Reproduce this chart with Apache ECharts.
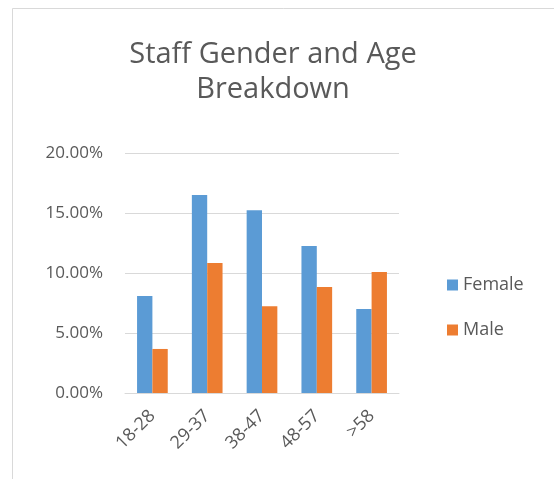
<!DOCTYPE html>
<html>
<head>
<meta charset="utf-8">
<script src="https://cdn.jsdelivr.net/npm/echarts@6/dist/echarts.min.js"></script>
<style>html,body{margin:0;padding:0;background:#fff}#c{width:554px;height:479px}</style>
</head>
<body>
<div id="c"></div>
<script>
const categories = ['18-28', '29-37', '38-47', '48-57', '>58'];
const femaleValues = [8.08, 16.5, 15.22, 12.25, 7.0];
const maleValues = [3.67, 10.83, 7.22, 8.83, 10.08];
const seriesNames = ['Female', 'Male'];
const yTicks = { min: 0, max: 20, interval: 5 };

const chart = echarts.init(document.getElementById('c'), null, { renderer: 'canvas' });
const font = '"Open Sans", "Liberation Sans", sans-serif';
chart.setOption({
  animation: false,
  backgroundColor: '#ffffff',
  title: {
    text: 'Staff Gender and Age\nBreakdown',
    left: 268, top: 32, textAlign: 'center',
    textStyle: { fontFamily: font, fontSize: 29, fontWeight: 'normal', color: '#595959', lineHeight: 35 }
  },
  graphic: [{
    type: 'rect', shape: { x: 12.5, y: 8.5, width: 600, height: 600 },
    style: { fill: 'none', stroke: '#d9d9d9', lineWidth: 1 }, silent: true
  }],
  legend: {
    orient: 'vertical', left: 442, top: 271,
    itemWidth: 11, itemHeight: 11, itemGap: 27,
    icon: 'rect',
    textStyle: { fontFamily: font, fontSize: 18, color: '#595959' },
    data: seriesNames
  },
  grid: { left: 125, right: 155, top: 153, bottom: 86, containLabel: false },
  xAxis: {
    type: 'category', data: categories,
    axisLine: { lineStyle: { color: '#d9d9d9' } },
    axisTick: { show: false },
    axisLabel: { rotate: 45, fontFamily: font, fontSize: 18, color: '#595959', margin: 20 }
  },
  yAxis: {
    type: 'value', min: yTicks.min, max: yTicks.max, interval: yTicks.interval,
    axisLine: { show: false }, axisTick: { show: false },
    splitLine: { lineStyle: { color: '#d9d9d9' } },
    axisLabel: { fontFamily: font, fontSize: 17, color: '#595959', margin: 22,
      formatter: v => v.toFixed(2) + '%' }
  },
  series: [
    { name: seriesNames[0], type: 'bar', data: femaleValues, itemStyle: { color: '#5B9BD5' },
      barGap: '0%', barCategoryGap: '44%' },
    { name: seriesNames[1], type: 'bar', data: maleValues, itemStyle: { color: '#ED7D31' },
      barGap: '0%', barCategoryGap: '44%' }
  ]
});
</script>
</body>
</html>
